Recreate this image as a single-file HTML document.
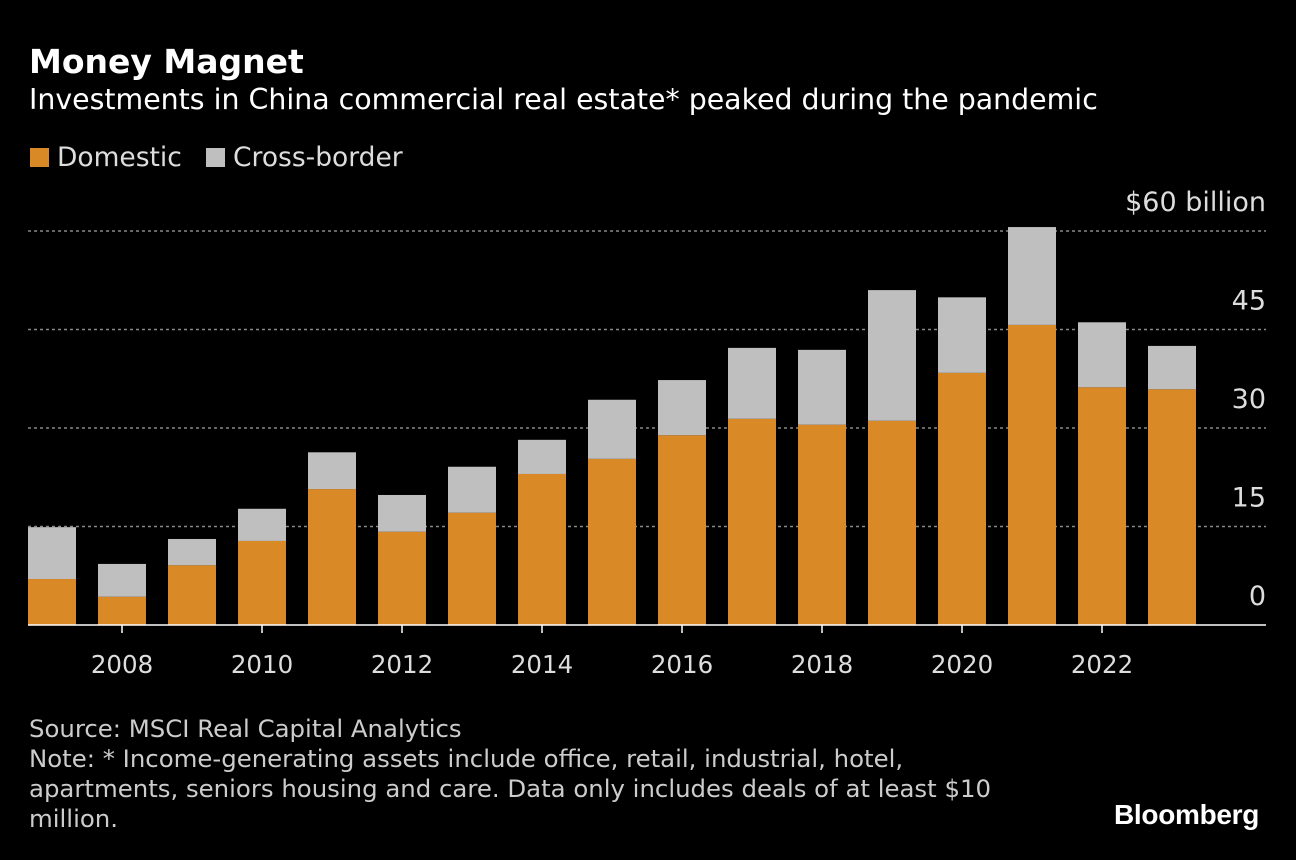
<!DOCTYPE html>
<html><head><meta charset="utf-8"><style>
body{margin:0;background:#000;width:1296px;height:860px;overflow:hidden;font-family:"DejaVu Sans","Liberation Sans",sans-serif;color:#fff}
.t{position:absolute;white-space:nowrap}
</style></head><body>
<div class="t" style="left:29px;top:42px;font-size:33px;font-weight:bold">Money Magnet</div>
<div class="t" style="left:29px;top:83px;font-size:28.4px">Investments in China commercial real estate* peaked during the pandemic</div>
<div class="t" style="left:30px;top:142px;font-size:26.5px;color:#ddd"><span style="display:inline-block;width:19px;height:19px;background:#d98a26;vertical-align:-1px;margin-right:8px"></span>Domestic</div>
<div class="t" style="left:206px;top:142px;font-size:26.5px;color:#ddd"><span style="display:inline-block;width:19px;height:19px;background:#bfbfbf;vertical-align:-1px;margin-right:8px"></span>Cross-border</div>
<svg id="chart" width="1296" height="860" style="position:absolute;left:0;top:0"></svg>
<div class="t" style="left:29px;top:714px;font-size:24.4px;line-height:30px;color:#ccc">Source: MSCI Real Capital Analytics<br>Note: * Income-generating assets include office, retail, industrial, hotel,<br>apartments, seniors housing and care. Data only includes deals of at least $10<br>million.</div>
<div class="t" style="left:1114px;top:799px;font-size:28px;font-weight:bold;letter-spacing:-0.3px;font-family:'Liberation Sans',sans-serif">Bloomberg</div>
<script>
const years=[2007,2008,2009,2010,2011,2012,2013,2014,2015,2016,2017,2018,2019,2020,2021,2022,2023];
const domestic=[7.0,4.3,9.1,12.8,20.7,14.2,17.1,23.0,25.3,28.9,31.4,30.5,31.1,38.4,45.7,36.2,35.9];
const crossBorder=[7.9,5.0,4.0,4.9,5.6,5.6,7.0,5.2,9.0,8.4,10.8,11.4,19.9,11.5,14.9,9.9,6.6];
const yTicks=[0,15,30,45,60];
const xTickYears=[2008,2010,2012,2014,2016,2018,2020,2022];
const NS='http://www.w3.org/2000/svg';
const svg=document.getElementById('chart');
const y=v=>625-v*(394/60);
const x=yr=>52+(yr-2007)*70;
function mk(t,a){const e=document.createElementNS(NS,t);for(const k in a)e.setAttribute(k,a[k]);svg.appendChild(e);return e;}
yTicks.forEach(v=>{
  if(v>0){const l=mk('line',{x1:28,x2:1266,y1:y(v),y2:y(v),stroke:'#888','stroke-width':1.5,'stroke-dasharray':'3,3'});
  
  }
  const t=mk('text',{x:1266,y:y(v)-20,'text-anchor':'end',fill:'#ddd','font-size':27,'font-family':'DejaVu Sans, sans-serif'});
  t.textContent=v===60?'$60 billion':String(v);
  
  
});
years.forEach((yr,i)=>{
  const d=mk('rect',{x:x(yr)-24,y:y(domestic[i]),width:48,height:y(0)-y(domestic[i]),fill:'#d98a26'});
  
  
  const c=mk('rect',{x:x(yr)-24,y:y(domestic[i]+crossBorder[i]),width:48,height:y(domestic[i])-y(domestic[i]+crossBorder[i]),fill:'#bfbfbf'});
  
  
});
const ax=mk('line',{x1:28,x2:1266,y1:625,y2:625,stroke:'#fff','stroke-width':1.5});


xTickYears.forEach(yr=>{
  const tk=mk('line',{x1:x(yr),x2:x(yr),y1:625,y2:633,stroke:'#fff','stroke-width':1.5});
  
  
  const t=mk('text',{x:x(yr),y:673,'text-anchor':'middle',fill:'#ddd','font-size':24.5,'font-family':'DejaVu Sans, sans-serif'});
  t.textContent=yr;
  
  
});
</script>
</body></html>
